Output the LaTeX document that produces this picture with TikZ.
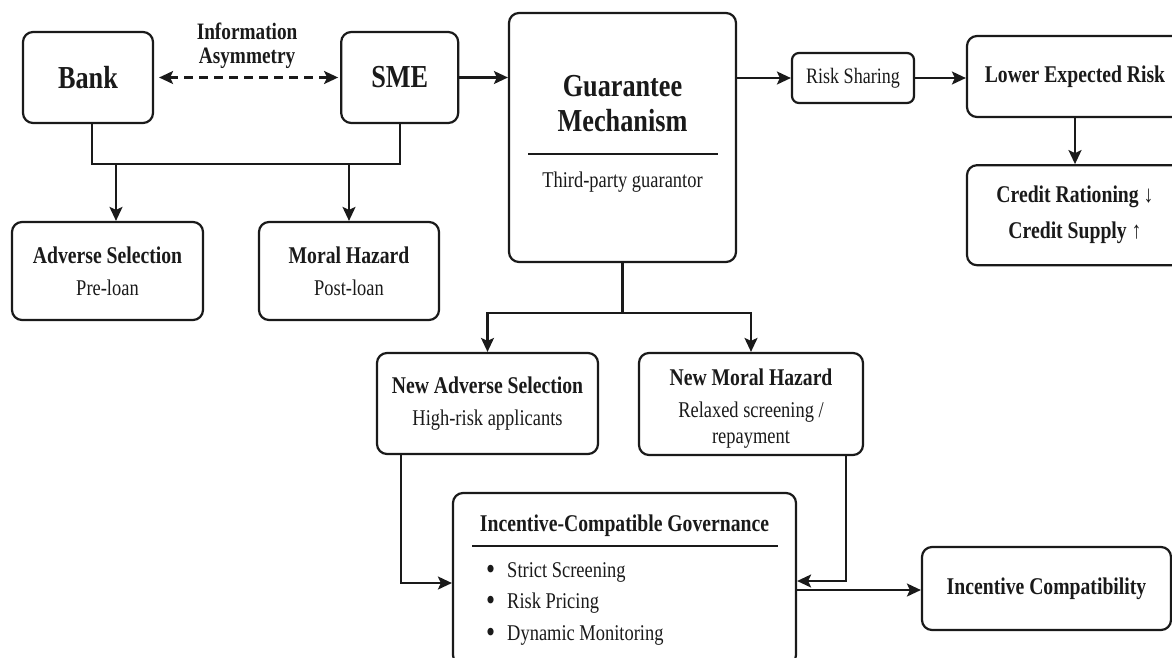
\documentclass[tikz,border=0pt]{standalone}
\usepackage{fontspec}
\setmainfont{Liberation Serif}[FakeStretch=0.82]
\usepackage{tikz}
\usetikzlibrary{positioning,arrows.meta}
\definecolor{flowink}{HTML}{1A1A1A}
\newcommand{\subf}{\fontsize{22.5}{27}\selectfont\mdseries}
\newcommand{\bul}{\raisebox{-2pt}{\scalebox{1.4}{\textbullet}}\hspace{12pt}}
\tikzset{
  box/.style     ={rounded corners=10pt,draw=flowink,line width=2.2pt,align=center,inner sep=4pt,text=flowink,font=\fontsize{24}{32}\selectfont\bfseries},
  bigbox/.style  ={box,font=\fontsize{32}{35}\selectfont\bfseries},
  smallbox/.style={box,rounded corners=7pt,font=\fontsize{22}{26}\selectfont},
  head/.style    ={align=center,inner sep=0pt,text=flowink,font=\fontsize{32}{35}\selectfont\bfseries},
  subhead/.style ={align=center,inner sep=0pt,text=flowink,font=\fontsize{24}{30}\selectfont\bfseries},
  note/.style    ={align=center,inner sep=0pt,text=flowink,font=\fontsize{22.5}{31.5}\selectfont},
  rulel/.style   ={line width=2pt,draw=flowink},
  wire/.style    ={line width=2.2pt,draw=flowink},
  arr/.style     ={wire,-{Stealth[length=14pt,width=13pt,inset=3pt]}},
  darr/.style    ={wire,{Stealth[length=14pt,width=13pt,inset=3pt]}-{Stealth[length=14pt,width=13pt,inset=3pt]},dash pattern=on 9pt off 6pt},
  lbl/.style     ={align=center,inner sep=0pt,text=flowink,font=\fontsize{23.5}{24}\selectfont\bfseries},
}
\begin{document}
\begin{tikzpicture}[x=1pt,y=-1pt]
  \useasboundingbox (0,0) rectangle (1172,657);
  \clip (0,0) rectangle (1172,657);

  % parties
  \node[bigbox,minimum width=130pt,minimum height=91pt] (bank) at (88,77.5) {Bank};
  \node[bigbox,minimum width=117pt,minimum height=91pt,right=186pt of bank] (sme) {SME};
  \node[box,minimum width=191pt,minimum height=98pt] (ads) at (107.5,271) {Adverse Selection\\{\subf Pre-loan}};
  \node[box,minimum width=180pt,minimum height=98pt] (mh) at (349,271) {Moral Hazard\\{\subf Post-loan}};

  % guarantee
  \node[box,minimum width=227pt,minimum height=249pt] (gm) at (622.5,137.5) {};
  \node[head] (gmtitle) at (622.5,104) {Guarantee\\Mechanism};
  \draw[rulel] (528,154) -- (718,154);
  \node[note] (gmsub) at (622.5,182) {Third-party guarantor};

  % effects
  \node[smallbox,minimum width=122pt,minimum height=50pt] (rs) at (853,78) {Risk Sharing};
  \node[box,minimum width=216pt,minimum height=81pt] (ler) at (1075,76.5) {Lower Expected Risk};
  \node[box,minimum width=216pt,minimum height=100pt,below=46pt of ler] (cr)
    {Credit Rationing {\mdseries ↓}\\[4pt]Credit Supply {\mdseries ↑}};

  % new problems
  \node[box,minimum width=221pt,minimum height=101pt] (nas) at (487.5,403.5) {New Adverse Selection\\{\subf High-risk applicants}};
  \node[box,minimum width=224pt,minimum height=102pt] (nmh) at (751,404) {};
  \node[subhead,below=17pt of nmh.north] (nmhtxt)
    {New Moral Hazard\\[2pt]{\subf Relaxed screening /}\\[-4pt]{\subf repayment}};

  % governance
  \node[box,minimum width=343pt,minimum height=172pt] (icg) at (624.5,579) {};
  \node[subhead] (icgtitle) at (624.5,526) {Incentive-Compatible Governance};
  \draw[rulel] (472,546) -- (778,546);
  \node[note,align=left,anchor=north west] (icglist) at (486,562)
    {\bul Strict Screening\\\bul Risk Pricing\\\bul Dynamic Monitoring};
  \node[box,minimum width=249pt,minimum height=83pt] (ic) at (1046.5,588.5) {Incentive Compatibility};

  \coordinate (adsin) at (116,163);

  \draw[darr,shorten <=5pt,shorten >=2pt] (bank) -- node[lbl,above=8pt]{Information\\Asymmetry} (sme);
  \draw[wire] ([xshift=4pt]bank.south) -- ++(0,40) coordinate (bbar) -| (sme.south);
  \draw[arr] (adsin) -- (adsin |- ads.north);
  \draw[arr] (mh.north |- bbar) -- (mh.north);
  \draw[arr] (sme) -- (sme -| gm.west);
  \draw[arr] (gm.east |- rs) -- (rs);
  \draw[arr] (rs) -- (rs -| ler.west);
  \draw[arr] (ler) -- (cr);
  \draw[wire] (gm.south) -- ++(0,50) coordinate (gbar);
  \draw[arr] (gbar) -| (nas.north);
  \draw[arr] (gbar) -| (nmh.north);
  \draw[arr] ([xshift=25pt]nas.south west) |- ([yshift=-4pt]icg.west);
  \draw[arr] ([xshift=-18pt]nmh.south east) |- ([yshift=-2pt]icg.east);
  \draw[arr] ([yshift=-11pt]icg.east) -- ([yshift=-11pt]icg.east -| ic.west);
\end{tikzpicture}
\end{document}
